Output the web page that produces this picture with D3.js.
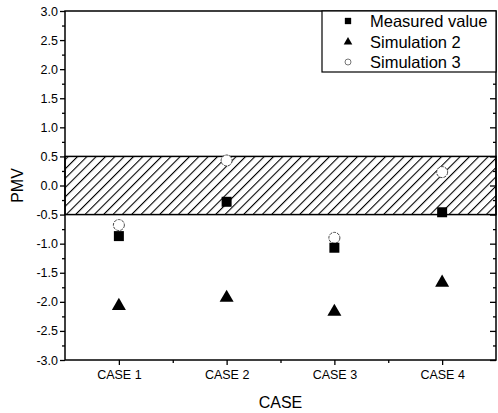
<!DOCTYPE html>
<html>
<head>
<meta charset="utf-8">
<script src="https://cdn.jsdelivr.net/npm/d3@7"></script>
<style>
  html, body { margin: 0; padding: 0; background: #fff; }
  svg { display: block; font-family: "Liberation Sans", Arial, sans-serif; }
</style>
</head>
<body>
<svg id="chart" width="498" height="413"></svg>
<script>
// PMV per case: measurement and two simulations
const categories = ["CASE 1", "CASE 2", "CASE 3", "CASE 4"];
const measured = [-0.87, -0.28, -1.07, -0.46];
const simulation2 = [-2.07, -1.93, -2.17, -1.67];
const simulation3 = [-0.68, 0.43, -0.90, 0.23];
const comfortBand = [-0.5, 0.5];
const yMajorTicks = d3.range(-3, 3.001, 0.5);
const yMinorTicks = d3.range(-2.75, 3, 0.5);
const xMinorTicks = [1.5, 2.5, 3.5];
const seriesNames = ["Measured value", "Simulation 2", "Simulation 3"];

const W = 498, H = 413;
const margin = { left: 65, top: 11, right: 2, bottom: 53 };
const svg = d3.select("#chart");

const x = d3.scaleLinear().domain([0.5, 4.5]).range([margin.left, W - margin.right]);
const y = d3.scaleLinear().domain([-3, 3]).range([H - margin.bottom, margin.top]);

// diagonal hatch for the comfort band
const defs = svg.append("defs");
defs.append("pattern")
  .attr("id", "hatch")
  .attr("patternUnits", "userSpaceOnUse")
  .attr("width", 6.6).attr("height", 6.6)
  .attr("patternTransform", "rotate(45)")
  .append("line")
  .attr("x1", 0).attr("y1", 0).attr("x2", 0).attr("y2", 6.6)
  .attr("stroke", "#000").attr("stroke-width", 2.2);

svg.append("rect")
  .attr("x", x(0.5)).attr("y", y(comfortBand[1]))
  .attr("width", x(4.5) - x(0.5))
  .attr("height", y(comfortBand[0]) - y(comfortBand[1]))
  .attr("fill", "url(#hatch)")
  .attr("stroke", "#000").attr("stroke-width", 1.5);

// axes
const fmt = d => d.toFixed(1);
function styleAxis(g) {
  g.select(".domain").remove();
  g.selectAll("line").attr("stroke", "#000").attr("stroke-width", 1.3);
  g.selectAll("text").attr("fill", "#000").style("font-size", "12.5px")
    .style("font-family", "'Liberation Sans', Arial, sans-serif");
}

svg.append("g").attr("transform", `translate(${margin.left},0)`)
  .call(d3.axisLeft(y).tickValues(yMajorTicks).tickFormat(fmt).tickSize(5).tickPadding(2))
  .call(styleAxis);
svg.append("g").attr("transform", `translate(${margin.left},0)`)
  .call(d3.axisLeft(y).tickValues(yMinorTicks).tickFormat("").tickSize(3))
  .call(styleAxis);
svg.append("g").attr("transform", `translate(${W - margin.right},0)`)
  .call(d3.axisRight(y).tickValues(yMajorTicks).tickFormat("").tickSize(-6))
  .call(styleAxis);
svg.append("g").attr("transform", `translate(${W - margin.right},0)`)
  .call(d3.axisRight(y).tickValues(yMinorTicks).tickFormat("").tickSize(-3))
  .call(styleAxis);

svg.append("g").attr("transform", `translate(0,${H - margin.bottom})`)
  .call(d3.axisBottom(x).tickValues([1, 2, 3, 4]).tickFormat(i => categories[i - 1]).tickSize(5).tickPadding(5))
  .call(styleAxis);
svg.append("g").attr("transform", `translate(0,${H - margin.bottom})`)
  .call(d3.axisBottom(x).tickValues(xMinorTicks).tickFormat("").tickSize(3))
  .call(styleAxis);

// frame
svg.append("rect")
  .attr("x", margin.left).attr("y", margin.top)
  .attr("width", W - margin.right - margin.left)
  .attr("height", H - margin.bottom - margin.top)
  .attr("fill", "none").attr("stroke", "#000").attr("stroke-width", 1.5);

// axis titles
svg.append("text")
  .attr("x", (margin.left + W - margin.right) / 2).attr("y", 408)
  .attr("text-anchor", "middle").style("font-size", "16px").text("CASE");
svg.append("text")
  .attr("transform", `translate(23,${y(0)}) rotate(-90)`)
  .attr("text-anchor", "middle").style("font-size", "16px").text("PMV");

// markers
const tri = d3.symbol(d3.symbolTriangle, 85);
const sq = d3.symbol(d3.symbolSquare, 100);

svg.append("g").selectAll("path").data(simulation2).join("path")
  .attr("d", tri).attr("transform", (d, i) => `translate(${x(i + 1)},${y(d)})`)
  .attr("fill", "#000");

svg.append("g").selectAll("circle").data(simulation3).join("circle")
  .attr("cx", (d, i) => x(i + 1)).attr("cy", d => y(d)).attr("r", 5.5)
  .attr("fill", "#fff").attr("stroke", "#444").attr("stroke-width", 1)
  .attr("stroke-dasharray", "3,1");

svg.append("g").selectAll("path").data(measured).join("path")
  .attr("d", sq).attr("transform", (d, i) => `translate(${x(i + 1)},${y(d)})`)
  .attr("fill", "#000");

// legend
const legend = svg.append("g");
legend.append("rect")
  .attr("x", 322).attr("y", margin.top).attr("width", W - margin.right - 322).attr("height", 61)
  .attr("fill", "#fff").attr("stroke", "#000").attr("stroke-width", 1.2);
const rowY = [21, 42, 62];
legend.append("path").attr("d", d3.symbol(d3.symbolSquare, 40)())
  .attr("transform", `translate(348,${rowY[0]})`).attr("fill", "#000");
legend.append("path").attr("d", d3.symbol(d3.symbolTriangle, 32)())
  .attr("transform", `translate(348,${rowY[1]})`).attr("fill", "#000");
legend.append("circle").attr("cx", 348).attr("cy", rowY[2]).attr("r", 3)
  .attr("fill", "#fff").attr("stroke", "#666").attr("stroke-width", 0.9);
legend.selectAll("text").data(seriesNames).join("text")
  .attr("x", 370).attr("y", (d, i) => rowY[i])
  .attr("dominant-baseline", "central")
  .style("font-size", "16.5px").text(d => d);
</script>
</body>
</html>
